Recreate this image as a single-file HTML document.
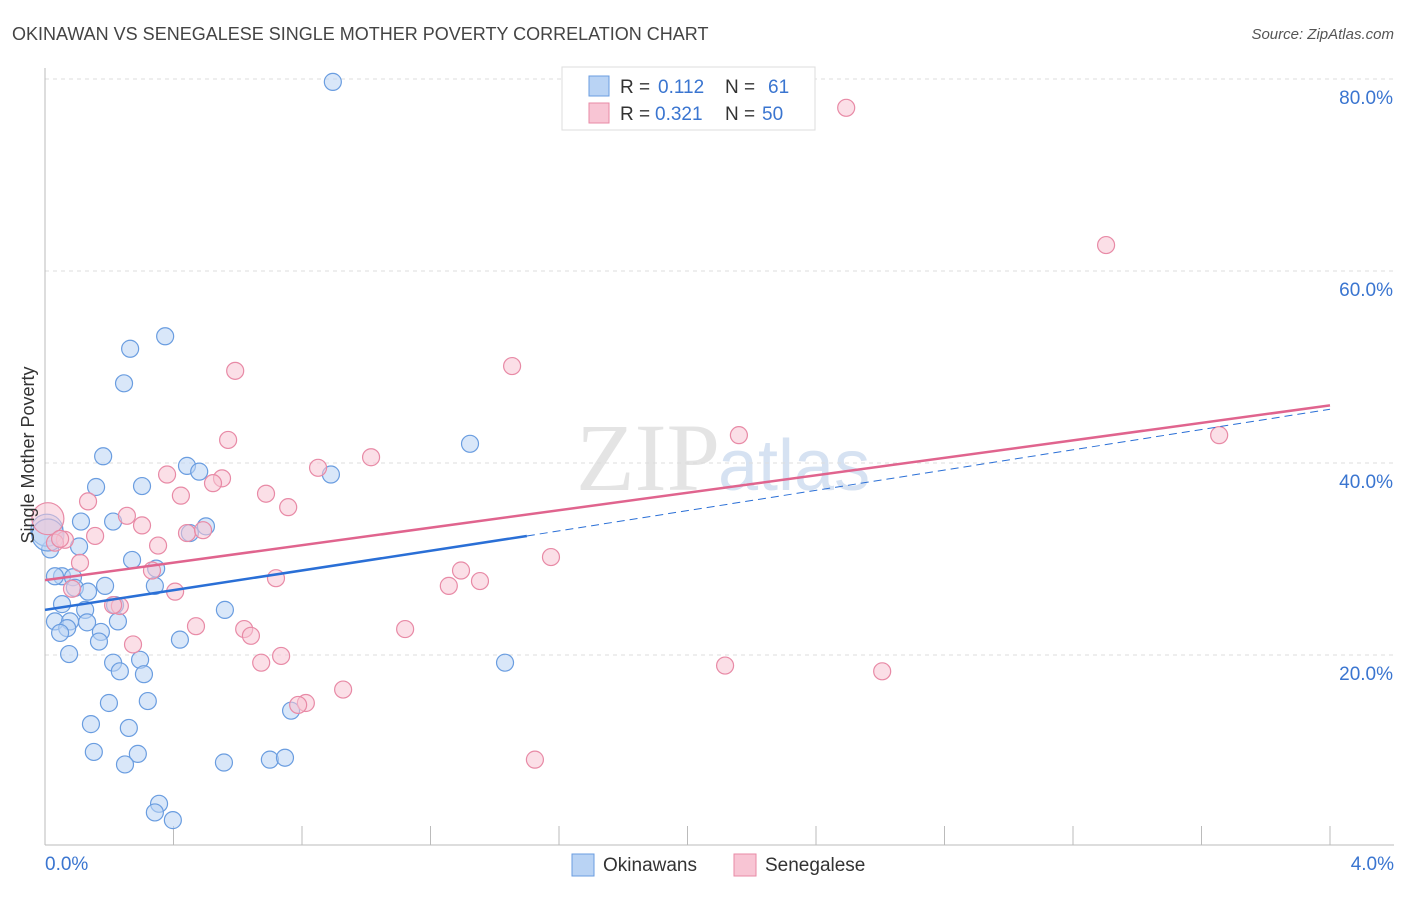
<!DOCTYPE html>
<html><head><meta charset="utf-8"><style>
body{margin:0;background:#fff;font-family:"Liberation Sans",sans-serif}
</style></head><body>
<svg id="chart" width="1406" height="892">
<text x="12" y="40" font-size="18" fill="#444">OKINAWAN VS SENEGALESE SINGLE MOTHER POVERTY CORRELATION CHART</text>
<text x="1394" y="39" font-size="15" fill="#555" font-style="italic" text-anchor="end">Source: ZipAtlas.com</text>
<text x="720" y="490" font-size="96" fill="#e4e4e4" font-family="Liberation Serif" text-anchor="end">ZIP</text>
<text x="718" y="490" font-size="72" fill="#d6e2f2">atlas</text>
<g id="grid"></g><g id="axes"></g><g id="pts"></g><g id="lines"></g>
<text transform="translate(34,455) rotate(-90)" font-size="18" fill="#333" text-anchor="middle">Single Mother Poverty</text>
<g>
<rect x="562" y="67" width="253" height="63" fill="#fff" stroke="#ddd"/>
<rect x="589" y="76" width="20" height="20" fill="#b9d3f4" stroke="#6a9de0"/>
<rect x="589" y="103" width="20" height="20" fill="#f8c5d4" stroke="#e88aa6"/>
<text y="93" font-size="19" fill="#333"><tspan x="620">R =</tspan><tspan x="658" fill="#3a75d0">0.112</tspan><tspan x="725">N =</tspan><tspan x="768" fill="#3a75d0">61</tspan></text>
<text y="120" font-size="19" fill="#333"><tspan x="620">R =</tspan><tspan x="655" fill="#3a75d0">0.321</tspan><tspan x="725">N =</tspan><tspan x="762" fill="#3a75d0">50</tspan></text>
</g>
<g>
<rect x="572" y="854" width="22" height="22" fill="#b9d3f4" stroke="#6a9de0"/>
<text x="603" y="871" font-size="19" fill="#333">Okinawans</text>
<rect x="734" y="854" width="22" height="22" fill="#f8c5d4" stroke="#e88aa6"/>
<text x="765" y="871" font-size="19" fill="#333">Senegalese</text>
</g>
</svg>
<script>
const yTicks=[20,40,60,80];
const xTickLabels=["0.0%","4.0%"];
const blueX=[0.896,0.374,0.265,0.246,0.181,0.442,0.480,0.890,1.323,0.159,0.302,0.212,0.112,0.501,0.451,0.106,0.016,0.271,0.346,0.053,0.031,0.087,0.093,0.187,0.342,0.134,0.053,0.218,0.125,0.560,0.031,0.078,0.131,0.227,0.069,0.047,0.174,0.420,0.168,0.075,0.296,0.212,0.308,0.233,1.432,0.320,0.199,0.766,0.143,0.261,0.152,0.289,0.249,0.557,0.700,0.747,0.355,0.342,0.398,0.006,0.009];
const blueY=[79.7,53.2,51.9,48.3,40.7,39.7,39.1,38.8,42.0,37.5,37.6,33.9,33.9,33.4,32.7,31.3,31.0,29.9,29.0,28.2,28.2,28.1,27.0,27.2,27.2,26.6,25.3,25.2,24.7,24.7,23.5,23.5,23.4,23.5,22.8,22.3,22.4,21.6,21.4,20.1,19.5,19.2,18.0,18.3,19.2,15.2,15.0,14.2,12.8,12.4,9.9,9.7,8.6,8.8,9.1,9.3,4.5,3.6,2.8,33.0,32.5];
const pinkX=[2.494,3.303,1.454,0.592,0.570,1.015,2.160,3.655,0.850,0.380,0.551,0.523,0.423,0.134,0.688,0.757,0.255,0.302,0.442,0.492,0.156,0.062,0.031,0.352,0.109,1.575,1.295,0.333,1.354,0.719,1.257,0.405,0.084,0.233,0.212,0.470,1.121,0.620,0.641,0.274,0.735,0.673,2.117,2.606,0.928,0.812,0.788,1.525,0.009,0.047];
const pinkY=[77.0,62.7,50.1,49.6,42.4,40.6,42.9,42.9,39.5,38.8,38.4,37.9,36.6,36.0,36.8,35.4,34.5,33.5,32.7,33.0,32.4,32.0,31.7,31.4,29.6,30.2,28.8,28.8,27.7,28.0,27.2,26.6,26.9,25.1,25.2,23.0,22.7,22.7,22.0,21.1,19.9,19.2,18.9,18.3,16.4,15.0,14.8,9.1,34.2,32.1];
const blueLine=[[0,24.7],[1.5,32.4],[4,45.6]];
const pinkLine=[[0,27.8],[4,46.0]];
const X0=45,X1=1330,Y0=847,PY=9.6;
const sx=v=>X0+(v/4)*(X1-X0), sy=v=>Y0-v*PY;
const NS="http://www.w3.org/2000/svg";
function mk(p,t,a){const e=document.createElementNS(NS,t);for(const k in a)e.setAttribute(k,a[k]);document.getElementById(p).appendChild(e);return e;}
yTicks.forEach(t=>{
 const g=mk('grid','line',{x1:X0,x2:1394,y1:sy(t),y2:sy(t),stroke:'#ddd','stroke-dasharray':'4,4'});
 
 
 const l=mk('grid','text',{x:1393,y:sy(t)+25,'font-size':19,fill:'#3a75d0','text-anchor':'end'});l.textContent=t.toFixed(1)+'%';
 
 
});
const a1=mk('axes','line',{x1:X0,x2:X0,y1:68,y2:845,stroke:'#bbb'});


const a2=mk('axes','line',{x1:X0,x2:1394,y1:845,y2:845,stroke:'#bbb'});


for(let i=0;i<=10;i++){const t=mk('axes','line',{x1:sx(i*0.4),x2:sx(i*0.4),y1:826,y2:845,stroke:'#bbb'});
 
 }
[[0,45,'start'],[1,1394,'end']].forEach(([i,x,an])=>{const l=mk('axes','text',{x:x,y:870,'font-size':19,fill:'#3a75d0','text-anchor':an});l.textContent=xTickLabels[i];
 
 });
function pts(xs,ys,f,s,name){xs.forEach((x,i)=>{const r=(i>=xs.length-2&&x<0.02)?16:8.5;
 const c=mk('pts','circle',{cx:sx(x),cy:sy(ys[i]),r:r,fill:f,'fill-opacity':0.55,stroke:s,'stroke-width':1.2});
 
 });}
pts(blueX,blueY,'#b9d3f4','#6a9de0','okinawan-point');
pts(pinkX,pinkY,'#f8c5d4','#e88aa6','senegalese-point');
const bl=mk('lines','line',{x1:sx(blueLine[0][0]),y1:sy(blueLine[0][1]),x2:sx(blueLine[1][0]),y2:sy(blueLine[1][1]),stroke:'#2a6fd6','stroke-width':2.5});


const bd=mk('lines','line',{x1:sx(blueLine[1][0]),y1:sy(blueLine[1][1]),x2:sx(blueLine[2][0]),y2:sy(blueLine[2][1]),stroke:'#2a6fd6','stroke-width':1,'stroke-dasharray':'8,5'});


const pl=mk('lines','line',{x1:sx(pinkLine[0][0]),y1:sy(pinkLine[0][1]),x2:sx(pinkLine[1][0]),y2:sy(pinkLine[1][1]),stroke:'#e0648e','stroke-width':2.5});


</script>
</body></html>
